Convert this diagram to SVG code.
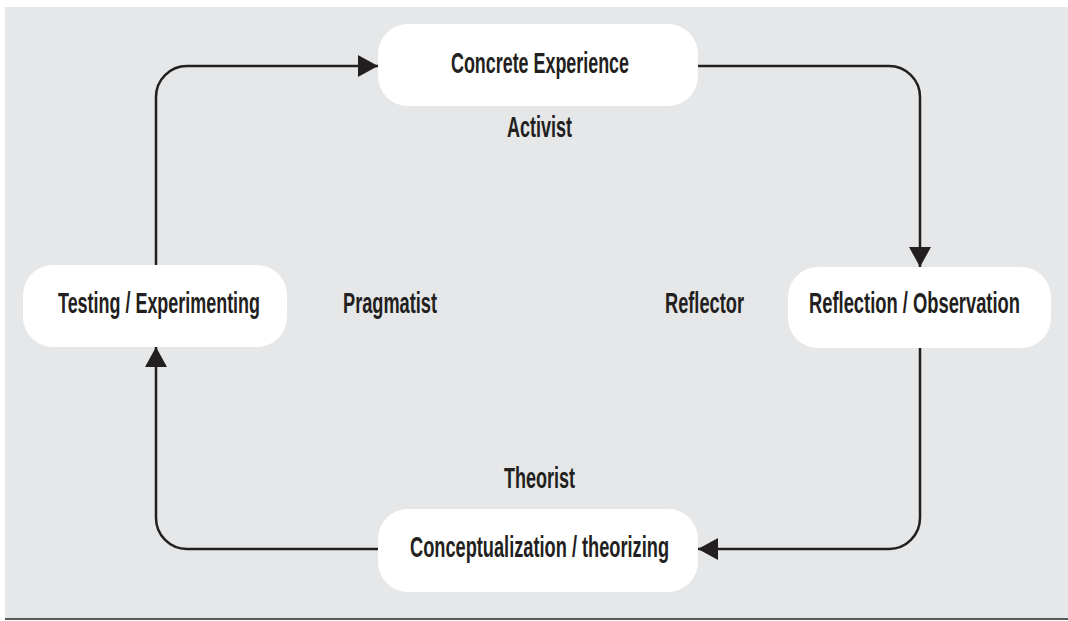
<svg xmlns="http://www.w3.org/2000/svg" width="1068" height="621" viewBox="0 0 1068 621">
<defs>
<style>
.node{fill:#ffffff;}
.t{font-family:"Liberation Sans",Arial,sans-serif;font-weight:bold;font-size:29px;fill:#231f20;}
.c{fill:none;stroke:#231f20;stroke-width:2.5;}
</style>
<marker id="ah" viewBox="0 0 20 22" refX="20" refY="11" markerWidth="20" markerHeight="22" markerUnits="userSpaceOnUse" orient="auto">
<path d="M0,0 L20,11 L0,22 Z" fill="#231f20"/>
</marker>
</defs>
<rect x="0" y="0" width="1068" height="621" fill="#ffffff"/>
<rect x="5" y="7" width="1063" height="613" fill="#e6e7e8"/>
<rect x="5" y="618" width="1063" height="2" fill="#58595b"/>
<g id="connectors">
<path class="c" d="M156,265 L156,97 A31,31 0 0 1 187,66 L378,66" marker-end="url(#ah)"/>
<path class="c" d="M698,66 L889,66 A31,31 0 0 1 920,97 L920,267" marker-end="url(#ah)"/>
<path class="c" d="M920,348 L920,518 A31,31 0 0 1 889,549 L698,549" marker-end="url(#ah)"/>
<path class="c" d="M378,549 L187,549 A31,31 0 0 1 156,518 L156,347" marker-end="url(#ah)"/>
</g>
<g id="concrete-experience">
<rect class="node" x="378" y="24" width="320" height="82" rx="30"/>
<text class="t" transform="translate(451,73) scale(0.65,1)" textLength="273.8" lengthAdjust="spacingAndGlyphs">Concrete Experience</text>
</g>
<g id="reflection-observation">
<rect class="node" x="788" y="267" width="263" height="81" rx="30"/>
<text class="t" transform="translate(809,313) scale(0.65,1)" textLength="324.6" lengthAdjust="spacingAndGlyphs">Reflection / Observation</text>
</g>
<g id="conceptualization">
<rect class="node" x="378" y="509" width="320" height="83" rx="30"/>
<text class="t" transform="translate(410,557) scale(0.65,1)" textLength="398.5" lengthAdjust="spacingAndGlyphs">Conceptualization / theorizing</text>
</g>
<g id="testing-experimenting">
<rect class="node" x="23" y="265" width="264" height="82" rx="30"/>
<text class="t" transform="translate(58,313) scale(0.65,1)" textLength="310.8" lengthAdjust="spacingAndGlyphs">Testing / Experimenting</text>
</g>
<g id="labels">
<text class="t" transform="translate(507,137) scale(0.65,1)" textLength="100" lengthAdjust="spacingAndGlyphs">Activist</text>
<text class="t" transform="translate(343,313) scale(0.65,1)" textLength="144.6" lengthAdjust="spacingAndGlyphs">Pragmatist</text>
<text class="t" transform="translate(665,313) scale(0.65,1)" textLength="121.5" lengthAdjust="spacingAndGlyphs">Reflector</text>
<text class="t" transform="translate(504,488) scale(0.65,1)" textLength="109.2" lengthAdjust="spacingAndGlyphs">Theorist</text>
</g>
</svg>
